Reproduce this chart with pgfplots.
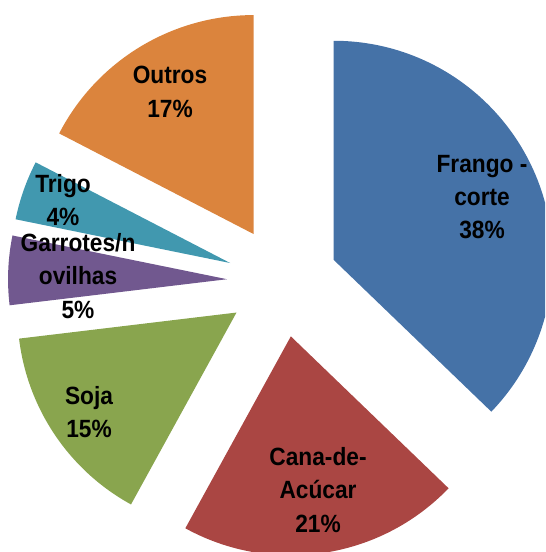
\documentclass[border=0pt]{standalone}
\usepackage{pgfplots}
\pgfplotsset{compat=1.18}
\usepackage{fontspec}
\setmainfont[FakeStretch=0.91]{Liberation Sans}
\definecolor{cFrango}{HTML}{4572A7}
\definecolor{cCana}{HTML}{AA4643}
\definecolor{cSoja}{HTML}{89A54E}
\definecolor{cGarr}{HTML}{71588F}
\definecolor{cTrigo}{HTML}{4198AF}
\definecolor{cOutros}{HTML}{DB843D}
% pie centre (axis units = pixels), explode offset
\newcommand{\PieCx}{282.5}
\newcommand{\PieCy}{270.5}
\newcommand{\PieOff}{55.5}
% #1 cumulative share before slice (%), #2 share (%), #3 colour
\newcommand{\PieSlice}[3]{%
  \pgfmathsetmacro\sa{90-3.6*#1}%
  \pgfmathsetmacro\ea{90-3.6*(#1+#2)}%
  \pgfmathsetmacro\ma{(\sa+\ea)/2}%
  \pgfmathsetmacro\cx{\PieCx+\PieOff*cos(\ma)}%
  \pgfmathsetmacro\cy{\PieCy+\PieOff*sin(\ma)}%
  \edef\tmp{\noexpand\fill[#3] (axis cs:\cx,\cy) -- ++(\sa:2.19cm)
    arc[start angle=\sa, end angle=\ea, radius=2.19cm] -- cycle;}\tmp
}
\begin{document}
\begin{tikzpicture}
\begin{axis}[
  scale only axis,
  width=5.45cm, height=5.52cm,
  xmin=0, xmax=545, ymin=0, ymax=552,
  axis lines=none,
  clip=true,
]
\addplot[draw=none] coordinates {(0,0) (545,552)};
\PieSlice{0}{37.2}{cFrango}
\PieSlice{37.2}{20.8}{cCana}
\PieSlice{58.0}{15.1}{cSoja}
\PieSlice{73.1}{5.1}{cGarr}
\PieSlice{78.2}{4.4}{cTrigo}
\PieSlice{82.6}{17.4}{cOutros}
\tikzset{lbl/.style={font=\fontsize{7.1}{9.5}\selectfont\bfseries, align=center, text=black}}
\node[lbl] at (axis cs:482,355) {Frango -\\corte\\38\%};
\node[lbl] at (axis cs:318,62) {Cana-de-\\Acúcar\\21\%};
\node[lbl] at (axis cs:89,140) {Soja\\15\%};
\node[lbl] at (axis cs:78,276) {Garrotes/n\\ovilhas\\5\%};
\node[lbl] at (axis cs:63,352) {Trigo\\4\%};
\node[lbl] at (axis cs:170,460) {Outros\\17\%};
\end{axis}
\end{tikzpicture}
\end{document}
